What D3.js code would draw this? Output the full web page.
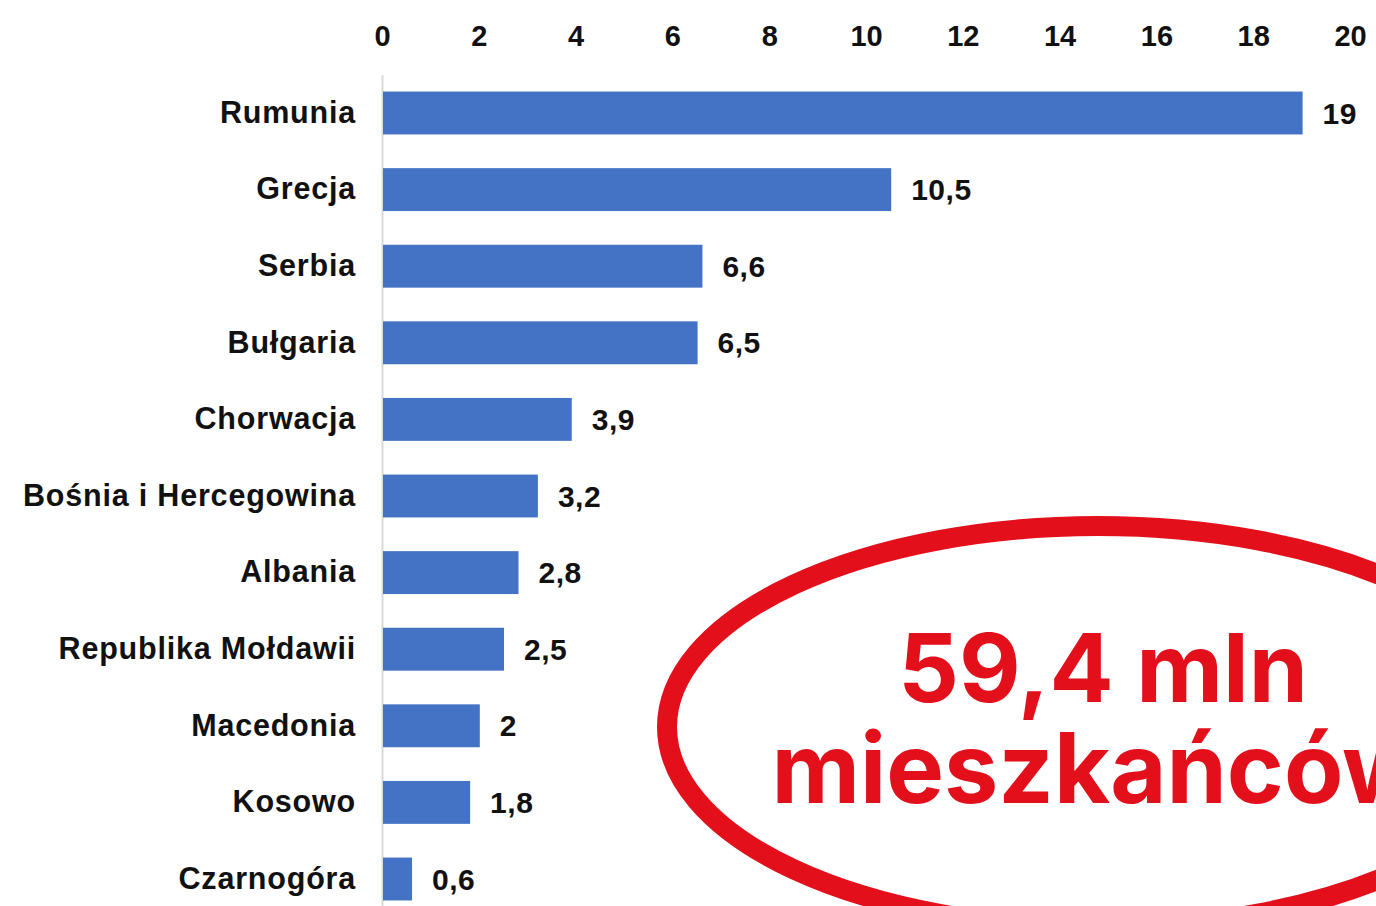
<!DOCTYPE html>
<html>
<head>
<meta charset="utf-8">
<script src="https://cdn.jsdelivr.net/npm/d3@7"></script>
<style>
  html, body { margin: 0; padding: 0; background: #fff; overflow: hidden; }
</style>
</head>
<body>
<div id="chart"></div>
<script>
const countries = ["Rumunia", "Grecja", "Serbia", "Bułgaria", "Chorwacja", "Bośnia i Hercegowina",
    "Albania", "Republika Mołdawii", "Macedonia", "Kosowo", "Czarnogóra"];
const population = [19, 10.5, 6.6, 6.5, 3.9, 3.2, 2.8, 2.5, 2, 1.8, 0.6];
const xTicks = [0, 2, 4, 6, 8, 10, 12, 14, 16, 18, 20];
const badgeLines = ["59,4 mln", "mieszkańców"];

(function () {
    let width = 1376, height = 906;
    let svg = d3.select("#chart")
        .append("svg")
        .attr("width", width)
        .attr("height", height);

    let fmt = v => String(v).replace(".", ",");

    let x = d3.scaleLinear()
        .domain([0, 20])
        .range([382, 1350]);
    let y = d3.scaleBand()
        .domain(countries)
        .range([74.7, 917.3])
        .paddingInner(0.44)
        .paddingOuter(0.22);

    // top axis, numbers only
    let top = svg.append("g")
        .attr("transform", "translate(0,46)")
        .call(d3.axisTop(x).tickValues(xTicks).tickSize(0).tickPadding(0));
    top.select(".domain").remove();
    top.selectAll("text")
        .attr("font-family", "Liberation Sans, Arial, sans-serif")
        .attr("font-weight", "bold")
        .attr("font-size", "29px")
        .attr("fill", "#111");

    // left axis: grey line + country names
    let left = svg.append("g")
        .attr("transform", `translate(${x(0)},0)`)
        .call(d3.axisLeft(y).tickSize(0).tickSizeOuter(0).tickPadding(26));
    left.select(".domain")
        .attr("stroke", "#d9d9d9")
        .attr("stroke-width", 2);
    left.selectAll("text")
        .attr("font-family", "Liberation Sans, Arial, sans-serif")
        .attr("font-weight", "bold")
        .attr("font-size", "30.5px")
        .attr("letter-spacing", "0.8px")
        .attr("fill", "#111");

    let rows = svg.append("g")
        .selectAll("g")
        .data(countries.map((c, i) => [c, population[i]]))
        .enter()
        .append("g");
    rows.append("rect")
        .attr("x", x(0) + 1)
        .attr("y", d => y(d[0]))
        .attr("width", d => x(d[1]) - x(0))
        .attr("height", y.bandwidth())
        .attr("fill", "#4472C4");
    rows.append("text")
        .attr("x", d => x(d[1]) + 21)
        .attr("y", d => y(d[0]) + y.bandwidth() / 2)
        .attr("dy", "0.35em")
        .attr("font-family", "Liberation Sans, Arial, sans-serif")
        .attr("font-weight", "bold")
        .attr("font-size", "30px")
        .attr("letter-spacing", "0.5px")
        .attr("fill", "#111")
        .text(d => fmt(d[1]));

    // red badge
    let red = "#E30F1B";
    svg.append("ellipse")
        .attr("cx", 1098)
        .attr("cy", 727)
        .attr("rx", 431)
        .attr("ry", 201)
        .attr("fill", "none")
        .attr("stroke", red)
        .attr("stroke-width", 20);
    svg.append("g")
        .selectAll("text")
        .data(badgeLines)
        .enter()
        .append("text")
        .attr("x", (_, i) => i ? 1098 : 1103)
        .attr("y", (_, i) => 702 + i * 101)
        .attr("text-anchor", "middle")
        .attr("font-family", "Inter, Roboto, sans-serif")
        .attr("font-weight", 700)
        .attr("font-size", (_, i) => i ? "97px" : "95px")
        .attr("fill", red)
        .text(d => d);
})()
</script>
</body>
</html>
